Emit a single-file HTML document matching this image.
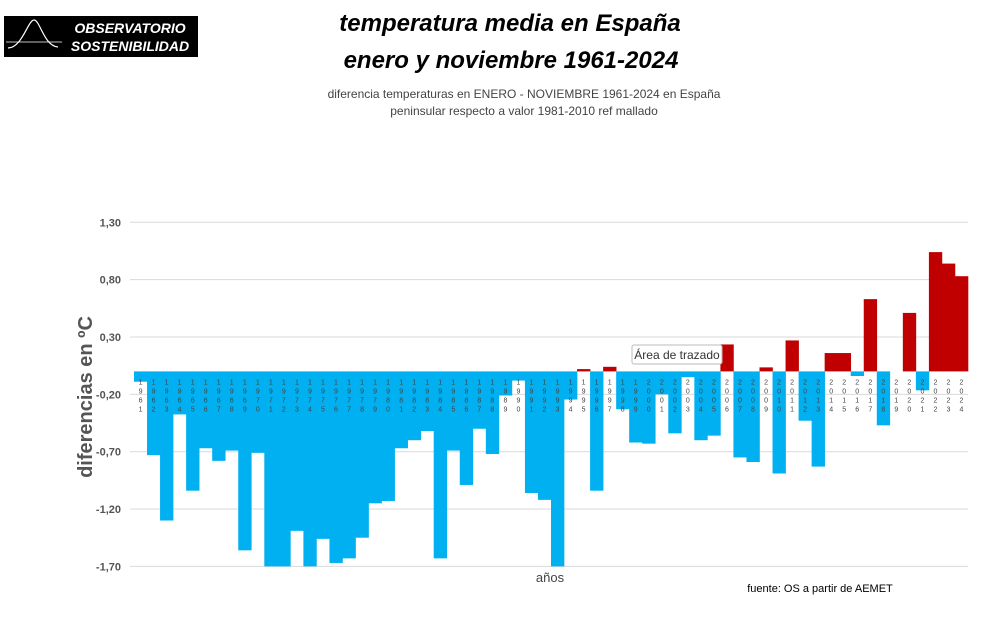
<!DOCTYPE html>
<html><head><meta charset="utf-8"><style>
body{margin:0;background:#fff;width:991px;height:626px;overflow:hidden;font-family:"Liberation Sans",sans-serif}
</style></head><body>
<svg width="991" height="626" xmlns="http://www.w3.org/2000/svg">
<g>
<rect x="4" y="16" width="194" height="41" fill="#000"/>
<path d="M8 48 C22 48 28 20 34 20 C40 20 44 46 58 47" stroke="#fff" fill="none" stroke-width="1.2"/>
<line x1="6" y1="42" x2="62" y2="42" stroke="#fff" stroke-width="0.8"/>
<text x="130" y="33" fill="#fff" font-size="14" font-weight="bold" font-style="italic" text-anchor="middle">OBSERVATORIO</text>
<text x="130" y="51" fill="#fff" font-size="14" font-weight="bold" font-style="italic" text-anchor="middle">SOSTENIBILIDAD</text>
</g>
<text x="510" y="31" font-size="24" font-weight="bold" font-style="italic" text-anchor="middle">temperatura media en España</text>
<text x="511" y="68" font-size="24" font-weight="bold" font-style="italic" text-anchor="middle">enero y noviembre  1961-2024</text>
<text x="524" y="98" font-size="12" fill="#444" text-anchor="middle">diferencia temperaturas en ENERO - NOVIEMBRE 1961-2024 en España</text>
<text x="524" y="115" font-size="12" fill="#444" text-anchor="middle">peninsular respecto a valor 1981-2010 ref mallado</text>
<text transform="translate(92,397) rotate(-90)" font-size="20" font-weight="bold" fill="#555" text-anchor="middle">diferencias en ºC</text>
<g id="grid"></g><g id="bars"></g><g id="labels"></g>
<text x="550" y="582" font-size="13" fill="#444" text-anchor="middle">años</text>
<text x="820" y="592" font-size="11" fill="#000" text-anchor="middle">fuente: OS a partir de AEMET</text>
<g>
<rect x="632" y="345" width="90" height="19" rx="2" fill="#fff" stroke="#bbb"/>
<text x="677" y="359" font-size="12" fill="#333" text-anchor="middle">Área de trazado</text>
</g>
</svg>
<script>
const years=[];for(let y=1961;y<=2024;y++)years.push(y);
const values=[-0.09,-0.73,-1.30,-0.375,-1.04,-0.67,-0.78,-0.69,-1.56,-0.71,-1.70,-1.70,-1.39,-1.70,-1.46,-1.67,-1.63,-1.45,-1.15,-1.13,-0.67,-0.60,-0.52,-1.63,-0.69,-0.99,-0.50,-0.72,-0.21,-0.08,-1.06,-1.12,-1.70,-0.245,0.02,-1.04,0.04,-0.33,-0.62,-0.63,-0.20,-0.54,-0.05,-0.60,-0.56,0.235,-0.75,-0.79,0.035,-0.89,0.27,-0.43,-0.83,0.16,0.16,-0.04,0.63,-0.47,0.0,0.51,-0.165,1.04,0.94,0.83];
const ticks=[1.3,0.8,0.3,-0.2,-0.7,-1.2,-1.7];
const tickLabels=["1,30","0,80","0,30","-0,20","-0,70","-1,20","-1,70"];
const NS="http://www.w3.org/2000/svg";
const x0=134,x1=968,zeroY=371.4,ppu=114.7;
const yS=v=>zeroY-v*ppu;
const bw=(x1-x0)/years.length;
const xS=i=>x0+i*bw;
const g=document.getElementById('grid'),b=document.getElementById('bars'),l=document.getElementById('labels');
function mk(t,a){const e=document.createElementNS(NS,t);for(const k in a)e.setAttribute(k,a[k]);return e;}
ticks.forEach((t,i)=>{
 const ln=mk('line',{x1:130,x2:968,y1:yS(t),y2:yS(t),stroke:'#d9d9d9','stroke-width':1});
 
 
 g.appendChild(ln);
 const tx=mk('text',{x:121,y:yS(t)+4,'font-size':11,'font-weight':'bold',fill:'#555','text-anchor':'end'});
 tx.textContent=tickLabels[i];
 
 
 g.appendChild(tx);
});
values.forEach((v,i)=>{
 const y=Math.min(yS(v),zeroY),h=Math.abs(yS(v)-zeroY);
 const r=mk('rect',{x:xS(i),y:y,width:bw+0.3,height:Math.max(h,0),fill:v>=0?'#c00000':'#00b0f0'});
 
 
 b.appendChild(r);
 String(years[i]).split('').forEach((d,j)=>{
  const t=mk('text',{x:xS(i)+bw/2,y:zeroY+13+j*9,'font-size':7,fill:'#444','text-anchor':'middle'});
  t.textContent=d;
  
  
  l.appendChild(t);
 });
});
</script>
</body></html>
